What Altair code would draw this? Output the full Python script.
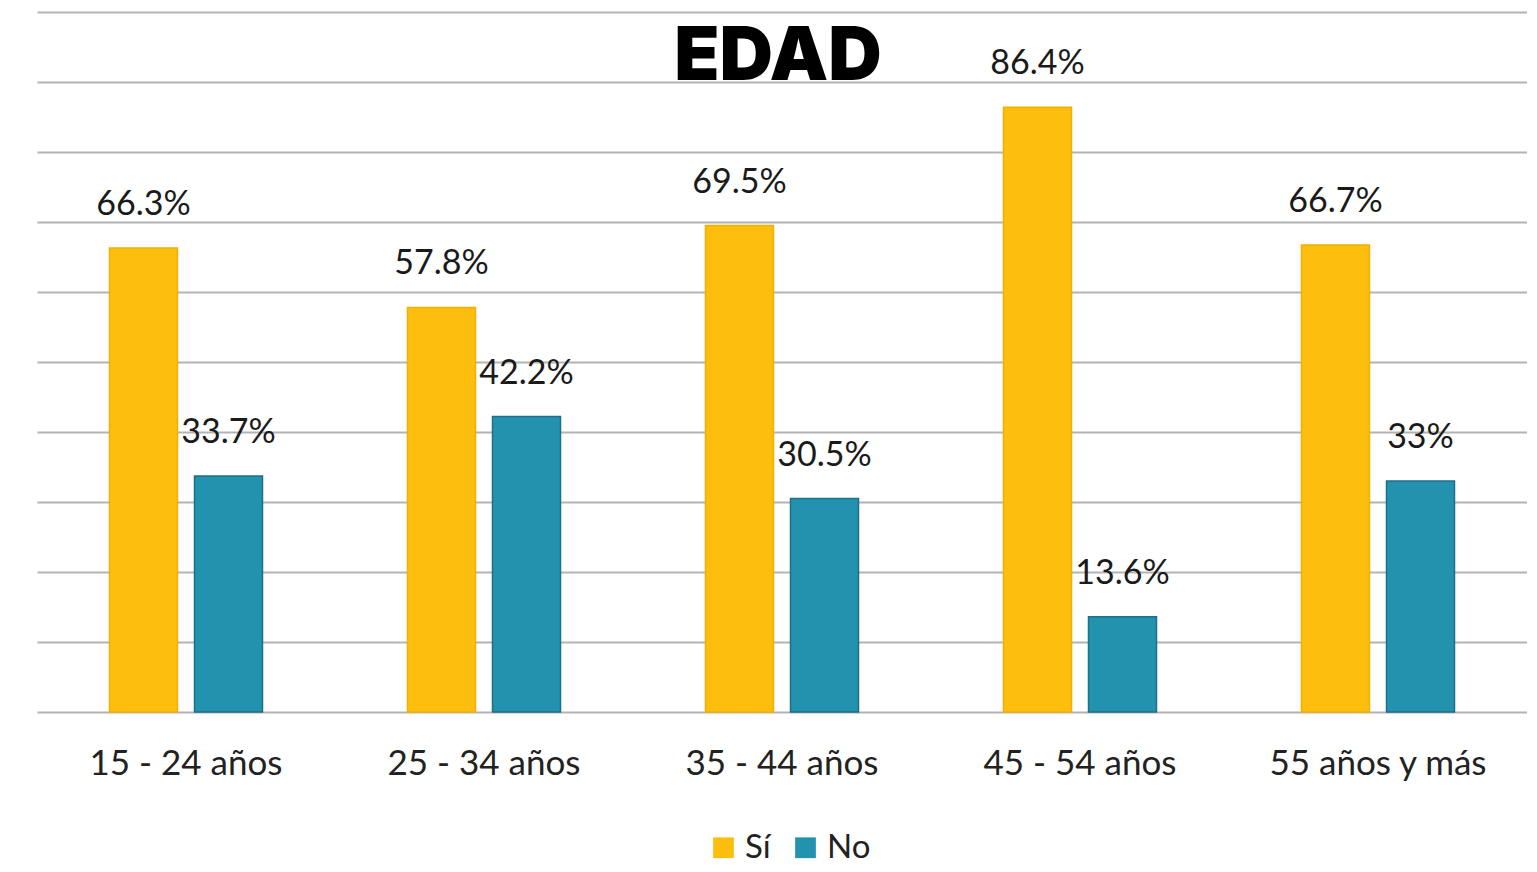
import altair as alt
import pandas as pd

groups = ["15 - 24 años", "25 - 34 años", "35 - 44 años", "45 - 54 años", "55 años y más"]
si_values = [66.3, 57.8, 69.5, 86.4, 66.7]
no_values = [33.7, 42.2, 30.5, 13.6, 33.0]
series = ["Sí", "No"]
colors = ["#FDBE0D", "#2292AE"]
strokes = ["#F2B000", "#1F6F8B"]
title_text = ["EDAD"]

rows = []
for g, s, n in zip(groups, si_values, no_values):
    rows.append({"grupo": g, "serie": "Sí", "valor": s})
    rows.append({"grupo": g, "serie": "No", "valor": n})
df = pd.DataFrame(rows)

x = alt.X("grupo:N", sort=groups, title=None,
          scale=alt.Scale(paddingInner=0.4866, paddingOuter=0.2433),
          axis=alt.Axis(labelAngle=0, labelFont="Lato", labelFontSize=35,
                        labelColor="#222222", labelPadding=34, ticks=False,
                        domain=False, grid=False, labelLimit=0))
xoff = alt.XOffset("serie:N", sort=series, scale=alt.Scale(paddingInner=0.2, paddingOuter=0))
y = alt.Y("valor:Q", title=None, scale=alt.Scale(domain=[0, 100], nice=False),
          axis=alt.Axis(labels=False, ticks=False, domain=False, grid=True,
                        values=list(range(0, 101, 10)), gridColor="#B3B3B3",
                        gridWidth=2, gridOpacity=1))

bars = alt.Chart(df).mark_bar(strokeWidth=1.5).encode(
    x=x, xOffset=xoff, y=y,
    color=alt.Color("serie:N", sort=series,
                    scale=alt.Scale(domain=series, range=colors),
                    legend=alt.Legend(title=None, orient="none", legendX=670, legendY=819,
                                      direction="horizontal", symbolType="square",
                                      symbolSize=430, symbolStrokeWidth=0,
                                      labelFont="Lato", labelFontSize=33,
                                      labelColor="#222222", labelOffset=5,
                                      columnPadding=18)),
    stroke=alt.Stroke("serie:N", sort=series,
                      scale=alt.Scale(domain=series, range=strokes), legend=None),
)

labels = alt.Chart(df).transform_calculate(
    txt="format(datum.valor, '.1~f') + '%'"
).mark_text(baseline="bottom", dy=-26, font="Lato", fontSize=34, color="#1A1A1A").encode(
    x=alt.X("grupo:N", sort=groups), xOffset=alt.XOffset("serie:N", sort=series),
    y=alt.Y("valor:Q"), text="txt:N",
)

title = alt.Chart(pd.DataFrame({"t": title_text})).mark_text(
    font="Inter", fontSize=74, fontWeight=900, color="#000000",
    baseline="alphabetic", align="center"
).encode(x=alt.value(741), y=alt.value(68), text="t:N")

chart = alt.layer(bars, labels, title).properties(
    width=1490, height=700,
    autosize=alt.AutoSizeParams(type="none"),
    padding={"left": 29, "top": 4, "right": 0, "bottom": 152},
    background="white",
).configure_view(stroke=None)

chart.save("out.html", embed_options={"renderer": "svg", "actions": False})
